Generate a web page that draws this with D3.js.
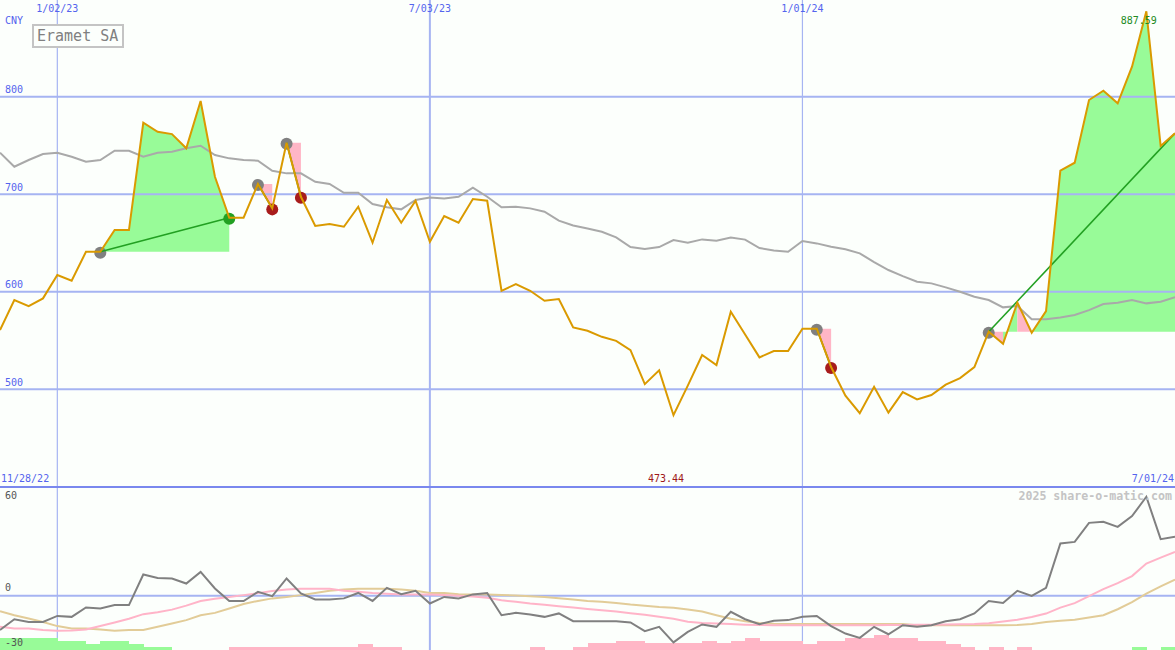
<!DOCTYPE html>
<html><head><meta charset="utf-8">
<script src="https://cdn.jsdelivr.net/npm/d3@7"></script>
<style>html,body{margin:0;padding:0;background:#fcfffc;}svg{display:block;}</style>
</head><body>
<svg id="chart" width="1175" height="650"></svg>
<script>
// ---------- data ----------
const startWeek = "2022-12-05";
const endWeek = "2024-07-01";
const title = "Eramet SA";
const currency = "CNY";
const rangeLabels = ["11/28/22", "7/01/24"];
const watermark = "2025 share-o-matic.com";

const price = [560.7, 591.5, 585.3, 593.2, 617.1, 611.3, 641.0, 641.0, 663.3, 663.3,
 773.3, 764.1, 761.7, 747.1, 795.6, 717.9, 675.9, 675.9, 710.5, 685.5,
 752.8, 697.4, 667.4, 669.4, 666.7, 687.2, 650.3, 694.1, 670.8, 693.3,
 651.3, 677.6, 670.8, 695.1, 693.3, 601.0, 607.9, 601.0, 590.8, 592.5,
 563.5, 560.0, 553.8, 549.7, 540.2, 505.3, 519.4, 473.44, 503.8, 535.1,
 524.8, 579.5, 556.1, 532.7, 539.2, 539.2, 562.1, 562.1, 522.8, 493.5,
 475.5, 502.6, 476.0, 497.1, 489.6, 494.1, 504.8, 511.5, 522.8, 559.0,
 546.7, 588.9, 558.0, 580.2, 724.1, 732.3, 796.6, 806.2, 793.2, 830.8,
 887.59, 749.4, 762.5];

const movingAvg = [742.6, 728.2, 735.1, 741.2, 742.6, 738.5, 733.3, 735.1, 744.6, 744.6,
 738.5, 742.6, 743.6, 747.1, 749.7, 740.2, 736.8, 735.1, 734.4, 724.1,
 721.4, 721.4, 712.8, 710.5, 701.5, 701.5, 689.9, 686.6, 684.5, 694.1,
 696.6, 695.6, 697.4, 706.7, 697.4, 686.6, 687.2, 685.5, 682.1, 673.0,
 667.9, 664.8, 661.5, 655.8, 645.8, 643.8, 645.8, 653.0, 650.3, 653.7,
 652.3, 655.6, 653.5, 644.8, 642.3, 641.0, 652.0, 649.6, 646.2, 643.5,
 639.4, 630.5, 622.3, 616.1, 610.3, 608.6, 604.5, 600.0, 594.9, 591.5,
 584.0, 585.3, 571.7, 571.7, 573.7, 576.1, 581.2, 587.4, 588.7, 591.5,
 588.1, 589.7, 594.3];

const momentum = [-19.0, -13.0, -14.5, -14.5, -11.2, -11.7, -6.5, -7.1, -5.2, -5.2,
 11.7, 9.8, 9.5, 6.7, 13.1, 4.0, -3.0, -3.0, 2.1, -0.3,
 9.5, 1.2, -2.1, -2.1, -1.5, 1.5, -2.9, 4.3, 0.8, 2.7,
 -4.3, -0.7, -1.5, 0.7, 1.5, -10.8, -9.5, -10.4, -11.7, -9.8,
 -14.1, -14.1, -14.1, -14.1, -14.8, -19.6, -17.2, -25.8, -20.0, -15.9,
 -17.2, -8.9, -13.0, -15.7, -13.9, -13.5, -11.7, -11.2, -16.8, -20.9,
 -23.3, -17.2, -21.3, -16.3, -17.2, -16.3, -14.1, -13.0, -9.8, -3.0,
 -4.0, 2.7, -0.1, 4.3, 28.8, 29.7, 40.2, 40.8, 38.0, 43.9,
 54.6, 31.2, 32.5];

const signalLine = [-17.2, -18.1, -18.1, -19.0, -19.4, -19.2, -18.7, -16.8, -14.8, -12.7,
 -10.2, -9.1, -7.7, -5.5, -3.0, -1.7, -0.7, 0.3, 1.4, 2.6,
 3.4, 3.8, 3.8, 3.8, 2.7, 2.1, 1.5, 1.1, 0.6, 0.6,
 0.7, 0.3, -0.1, -0.4, -1.1, -2.5, -3.4, -4.3, -5.0, -5.8,
 -6.5, -7.3, -8.0, -8.8, -9.7, -10.6, -11.7, -12.8, -14.4, -15.1,
 -15.4, -15.7, -16.0, -16.2, -16.3, -16.3, -16.3, -16.4, -16.4, -16.4,
 -16.3, -16.3, -16.2, -16.2, -16.1, -16.0, -15.9, -15.8, -15.7, -15.2,
 -14.2, -13.3, -11.8, -9.9, -6.6, -4.1, -0.3, 3.6, 6.9, 10.8,
 17.7, 21.0, 24.2];

const slowLine = [-8.6, -10.8, -12.6, -14.5, -16.8, -18.1, -18.1, -18.7, -19.4, -19.0,
 -19.0, -17.2, -15.4, -13.5, -10.8, -9.5, -7.1, -4.6, -2.9, -1.5,
 -0.7, 0.3, 1.5, 2.7, 3.4, 3.8, 3.8, 3.8, 3.4, 2.7,
 1.5, 1.5, 0.8, 0.7, 0.6, 0.4, 0.1, -0.3, -0.8, -1.4,
 -2.1, -2.9, -3.4, -4.1, -4.9, -5.5, -6.2, -6.7, -7.7, -8.8,
 -10.8, -12.7, -14.1, -15.1, -15.5, -15.7, -15.7, -15.7, -15.7, -15.7,
 -15.7, -15.7, -15.7, -15.7, -16.3, -16.3, -16.3, -16.3, -16.3, -16.3,
 -16.3, -16.2, -15.7, -14.5, -13.8, -13.3, -12.1, -10.8, -7.5, -3.6,
 1.1, 5.1, 8.9];

const histogram = [6.5, 6.5, 6.8, 6.8, 5.0, 5.0, 3.5, 5.0, 5.0, 3.5,
 1.8, 1.8, 0, 0, 0, 0, -1.5, -1.5, -1.5, -1.5,
 -1.5, -1.5, -1.5, -1.5, -1.5, -3.5, -1.5, -1.5, 0, 0,
 0, 0, 0, 0, 0, 0, 0, -1.8, 0, 0,
 -1.8, -3.6, -3.6, -5.1, -5.1, -3.6, -3.6, -3.6, -3.6, -5.1,
 -3.6, -5.1, -6.8, -5.1, -5.1, -5.1, -3.3, -5.1, -5.1, -6.8,
 -6.8, -8.3, -6.8, -6.8, -5.1, -5.1, -3.3, -1.8, 0, -1.8,
 0, -1.8, 0, 0, 0, 0, 0, 0, 0, 1.8,
 0, 1.8, 0];

const priceTicks = [500, 600, 700, 800];
const lowerTicks = [60, 0, -30];
const dateTicks = ["2023-01-02", "2023-07-03", "2024-01-01"];
const dateTickLabels = ["1/02/23", "7/03/23", "1/01/24"];

// trade signals: entry week, exit week (null = still open)
const signalEntries = ["2023-01-23", "2023-04-10", "2023-04-24", "2024-01-08", "2024-04-01"];
const signalExits   = ["2023-03-27", "2023-04-17", "2023-05-01", "2024-01-15", null];

// ---------- setup ----------
const W = 1175, H = 650;
const parse = d3.timeParse("%Y-%m-%d");
const dates = d3.timeMonday.range(parse(startWeek), d3.timeDay.offset(parse(endWeek), 1));
const idx = s => dates.findIndex(d => +d === +parse(s));

const x = d3.scaleTime().domain([parse(startWeek), parse(endWeek)]).range([0, W]);
const y = d3.scaleLinear().domain([400, 900]).range([486.8, -0.8]);
const yL = d3.scaleLinear().domain([-30, 60]).range([650, 487]);

const svg = d3.select("#chart");
const FONT = "'DejaVu Sans Mono', monospace";
const GRID = "#a6b4f2", BLUE_TXT = "#5464ee";
const GREEN_FILL = "#98fb98", PINK_FILL = "#ffb6c6";

svg.append("rect").attr("width", W).attr("height", H).attr("fill", "#fcfffc");

// trade fills: runs of weeks sharing a colour are merged into one polygon
const gFill = svg.append("g");
signalEntries.forEach((e, s) => {
  const i0 = idx(e);
  const i1 = signalExits[s] ? idx(signalExits[s]) : dates.length - 1;
  const base = price[i0];
  let a = i0;
  while (a < i1) {
    const col = price[a + 1] >= base;
    let b = a + 1;
    while (b < i1 && (price[b + 1] >= base) === col) b++;
    const pts = [[x(dates[a]), y(base)]];
    for (let k = a; k <= b; k++) pts.push([x(dates[k]), y(price[k])]);
    pts.push([x(dates[b]), y(base)]);
    gFill.append("path")
      .attr("d", "M" + pts.join("L") + "Z")
      .attr("fill", col ? GREEN_FILL : PINK_FILL);
    a = b;
  }
});

// grid
const gGrid = svg.append("g");
gGrid.selectAll("line.h").data(priceTicks).join("line")
  .attr("x1", 0).attr("x2", W)
  .attr("y1", d => y(d)).attr("y2", d => y(d))
  .attr("stroke", GRID).attr("stroke-width", 2);
gGrid.selectAll("line.v").data(dateTicks).join("line")
  .attr("x1", d => x(parse(d))).attr("x2", d => x(parse(d)))
  .attr("y1", 0).attr("y2", H)
  .attr("stroke", GRID).attr("stroke-width", (d, i) => i === 1 ? 2 : 1.2);
gGrid.append("line").attr("x1", 0).attr("x2", W)
  .attr("y1", yL(0)).attr("y2", yL(0)).attr("stroke", GRID).attr("stroke-width", 2);
gGrid.append("line").attr("x1", 0).attr("x2", W)
  .attr("y1", yL(60)).attr("y2", yL(60)).attr("stroke", "#7a88ee").attr("stroke-width", 2);

// lower histogram bars
svg.append("g").attr("shape-rendering", "crispEdges").selectAll("rect")
  .data(histogram.map((v, i) => ({v, i})).filter(d => d.v !== 0 && d.i < dates.length - 1))
  .join("rect")
  .attr("x", d => x(dates[d.i]))
  .attr("width", d => x(dates[d.i + 1]) - x(dates[d.i]) + 0.5)
  .attr("y", d => yL(-30 + Math.abs(d.v)))
  .attr("height", d => yL(-30) - yL(-30 + Math.abs(d.v)))
  .attr("fill", d => d.v > 0 ? GREEN_FILL : PINK_FILL);

// moving average
const line = d3.line().x((d, i) => x(dates[i])).y(d => y(d));
svg.append("path").attr("d", line(movingAvg)).attr("fill", "none")
  .attr("stroke", "#a9a9a9").attr("stroke-width", 2);

// entry dots
const gDots = svg.append("g");
signalEntries.forEach((e, s) => {
  const i0 = idx(e);
  gDots.append("circle").attr("cx", x(dates[i0])).attr("cy", y(price[i0]) + 1)
    .attr("r", 6).attr("fill", "#808080");
});

// trend lines
signalEntries.forEach((e, s) => {
  const i0 = idx(e);
  const i1 = signalExits[s] ? idx(signalExits[s]) : dates.length - 1;
  svg.append("line")
    .attr("x1", x(dates[i0])).attr("y1", y(price[i0]))
    .attr("x2", x(dates[i1])).attr("y2", y(price[i1]))
    .attr("stroke", "#22a022").attr("stroke-width", 1.6);
});

// exit dots
signalEntries.forEach((e, s) => {
  if (!signalExits[s]) return;
  const i0 = idx(e), i1 = idx(signalExits[s]);
  const win = price[i1] >= price[i0];
  gDots.append("circle").attr("cx", x(dates[i1])).attr("cy", y(price[i1]) + 1)
    .attr("r", 6).attr("fill", win ? "#22a022" : "#a81c1c");
});

// price line
svg.append("path").attr("d", line(price)).attr("fill", "none")
  .attr("stroke", "#da9a00").attr("stroke-width", 2).attr("stroke-linejoin", "miter");

// lower panel lines
const lineL = d3.line().x((d, i) => x(dates[i])).y(d => yL(d));
svg.append("path").attr("d", lineL(slowLine)).attr("fill", "none").attr("stroke", "#e2cc98").attr("stroke-width", 2);
svg.append("path").attr("d", lineL(signalLine)).attr("fill", "none").attr("stroke", "#ffb4c8").attr("stroke-width", 2);
svg.append("path").attr("d", lineL(momentum)).attr("fill", "none").attr("stroke", "#808080").attr("stroke-width", 2);

// ---------- text ----------
const txt = (t, xx, yy, opts = {}) => svg.append("text").text(t)
  .attr("x", xx).attr("y", yy)
  .attr("font-family", FONT).attr("font-size", opts.size || 10)
  .attr("font-weight", opts.weight || "normal")
  .attr("fill", opts.fill || BLUE_TXT)
  .attr("text-anchor", opts.anchor || "start")
  .attr("dominant-baseline", "middle");

priceTicks.forEach(v => txt(String(v), 5, y(v) - 6.5));
txt(currency, 5, 21);
dateTicks.forEach((d, i) => txt(dateTickLabels[i], x(parse(d)), 9, {anchor: "middle"}));
txt(rangeLabels[0], 1, 479);
txt(rangeLabels[1], W - 1, 479, {anchor: "end"});

lowerTicks.forEach(v => {
  const yy = v === 60 ? yL(v) + 9 : yL(v) - 7.5;
  txt(String(v), 5, yy, {fill: "#555555"});
});

// min / max labels
const iMax = d3.maxIndex(price), iMin = d3.minIndex(price);
txt(d3.format(".2f")(price[iMax]), x(dates[iMax]) - 7.5, 21, {anchor: "middle", fill: "#228b22"});
txt(d3.format(".2f")(price[iMin]), x(dates[iMin]) - 7.5, 479, {anchor: "middle", fill: "#a01818"});

txt(watermark, W - 3, 496, {anchor: "end", fill: "#c4c4c4", size: 11.6, weight: "bold"});

// title box
svg.append("rect").attr("x", 33).attr("y", 25).attr("width", 90).attr("height", 22)
  .attr("fill", "#fcfffc").attr("stroke", "#c4c4c4").attr("stroke-width", 2);
txt(title, 37, 36.5, {fill: "#808080", size: 15});
</script>
</body></html>
